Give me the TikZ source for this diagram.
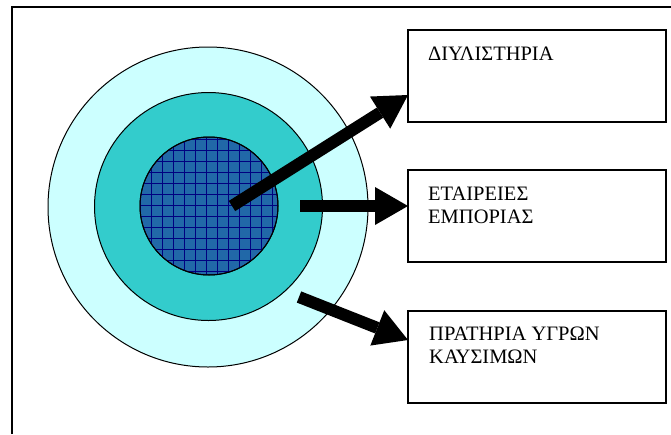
\documentclass[tikz,border=0pt]{standalone}
\usepackage{fontspec}
\setmainfont{Liberation Serif}
\usetikzlibrary{arrows.meta}
\definecolor{outerc}{RGB}{204,255,255}
\definecolor{midc}{RGB}{51,204,204}
\definecolor{innerc}{RGB}{33,104,168}
\definecolor{gridc}{RGB}{0,0,128}
\begin{document}
\begin{tikzpicture}[x=1pt,y=-1pt,
  ring/.style={draw=black, line width=1pt, circle, inner sep=0pt, outer sep=0pt},
  box/.style={draw=black, line width=1.5pt, minimum width=258pt, minimum height=92pt, inner sep=0pt, outer sep=0pt, anchor=north west},
  lbl/.style={font=\fontsize{20.5}{23}\selectfont, align=left, anchor=base west, inner sep=0pt},
  bigarrow/.style={line width=12pt, -{Triangle[width=38pt,length=33pt,line width=0pt]}},
  gridline/.style={draw=gridc, line width=0.8pt},
  frame/.style={line width=1.5pt}]
\useasboundingbox (0,0) rectangle (671,434);
\fill[white] (0,0) rectangle (671,434);
\draw[frame] (12,434) -- (12,7) -- (671,7);
\node[ring, fill=outerc, minimum size=320pt] (c3) at (208,207) {};
\node[ring, fill=midc, minimum size=228pt] (c2) at (208.5,206.5) {};
\node[ring, fill=innerc, minimum size=138pt] (c1) at (209,206) {};
\begin{scope}
  \clip (c1.center) circle[radius=69pt];
  \foreach \k in {0,...,14} {
    \draw[gridline] (129.7+11*\k,120) -- (129.7+11*\k,290);
    \draw[gridline] (120,128+11*\k) -- (300,128+11*\k);
  }
\end{scope}
\draw[line width=1pt] (c1.center) circle[radius=69pt];
\node[box] (b1) at (408,30) {};
\node[box] (b2) at (408,170) {};
\node[box] (b3) at (408,311) {};
\node[lbl] (l1) at (428,60) {ΔΙΥΛΙΣΤΗΡΙΑ};
\node[lbl] (l2) at (428,223) {ΕΤΑΙΡΕΙΕΣ\\ΕΜΠΟΡΙΑΣ};
\node[lbl] (l3) at (429,363) {ΠΡΑΤΗΡΙΑ ΥΓΡΩΝ\\ΚΑΥΣΙΜΩΝ};
\coordinate (s1) at (232,206);
\coordinate (e1) at (b1.west |- 0,95);
\coordinate (s2) at (300,206);
\coordinate (s3) at (299,297);
\coordinate (e3) at (b3.west |- 0,340);
\draw[bigarrow] (s1) -- (e1);
\draw[bigarrow] (s2) -- (b2.west |- s2);
\draw[bigarrow] (s3) -- (e3);
\end{tikzpicture}
\end{document}
